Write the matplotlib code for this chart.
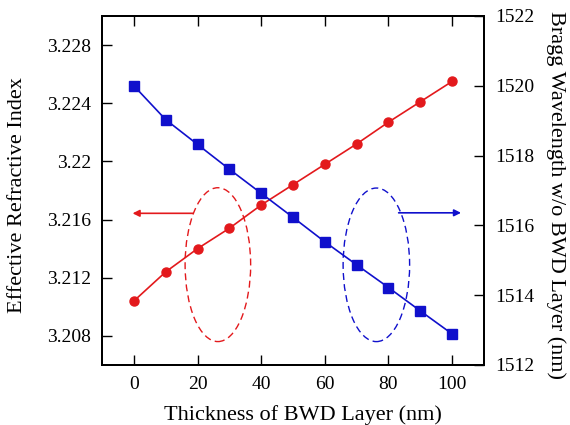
import numpy as np
import matplotlib
matplotlib.use("Agg")
import matplotlib.pyplot as plt
from matplotlib.patches import Ellipse

# data
thickness = [0, 10, 20, 30, 40, 50, 60, 70, 80, 90, 100]
n_eff = [3.2104, 3.2124, 3.2140, 3.2154, 3.2170, 3.2184, 3.2198, 3.2212, 3.2227, 3.2241, 3.2255]
bragg = [1520.00, 1519.03, 1518.32, 1517.61, 1516.92, 1516.23, 1515.53, 1514.87, 1514.22, 1513.55, 1512.89]

x_ticks = [0, 20, 40, 60, 80, 100]
left_ticks = [3.208, 3.212, 3.216, 3.22, 3.224, 3.228]
left_labels = ['3.208', '3.212', '3.216', '3.22', '3.224', '3.228']
right_ticks = [1512, 1514, 1516, 1518, 1520, 1522]

red = '#e3191c'
blue = '#1010cc'

plt.rcParams['font.family'] = ['Liberation Serif', 'DejaVu Serif']

fig = plt.figure(figsize=(5.7, 4.25), dpi=100)
ax = fig.add_axes([0.179, 0.1412, 0.670, 0.8212])
ax2 = ax.twinx()

ax.plot(thickness, n_eff, color=red, lw=1.2, marker='o', markersize=6.5, zorder=3)
ax2.plot(thickness, bragg, color=blue, lw=1.2, marker='s', markersize=6.5, zorder=3)

ax.set_xlim(-10, 110)
ax.set_ylim(3.206, 3.230)
ax2.set_ylim(1512, 1522)

ax.set_xticks(x_ticks)
ax.set_yticks(left_ticks)
ax.set_yticklabels(left_labels)
ax2.set_yticks(right_ticks)

ax.tick_params(axis='x', direction='in', length=7, width=1, top=True, labelsize=14, pad=8)
ax.tick_params(axis='y', direction='in', length=7, width=1, labelsize=14, pad=8)
ax2.tick_params(axis='y', direction='in', length=7, width=1, labelsize=14, pad=8)

for a in (ax, ax2):
    for s in a.spines.values():
        s.set_linewidth(1.4)

# axis titles placed where they sit in the reference
fig.text(0.531, 0.011, 'Thickness of BWD Layer (nm)', fontsize=16, ha='center', va='baseline')
fig.text(0.030, 0.54, 'Effective Refractive Index', fontsize=16, rotation=90, ha='center', va='center')
fig.text(0.975, 0.541, 'Bragg Wavelength w/o BWD Layer (nm)', fontsize=16, rotation=270, ha='center', va='center')

# ellipses marking each curve
ax.add_patch(Ellipse((26.4, 3.2129), 20.6, 0.01058, fill=False, ec=red, lw=1.0, ls=(0, (5, 3)), zorder=2))
ax2.add_patch(Ellipse((76.2, 1514.87), 20.9, 4.4, fill=False, ec=blue, lw=1.0, ls=(0, (5, 3)), zorder=2))

ax.annotate('', xy=(-0.4, 3.21643), xytext=(18.5, 3.21643),
            arrowprops=dict(arrowstyle='-|>', color=red, lw=1.2, mutation_scale=10, shrinkA=0, shrinkB=0))
ax2.annotate('', xy=(102.8, 1516.36), xytext=(83.2, 1516.36),
             arrowprops=dict(arrowstyle='-|>', color=blue, lw=1.2, mutation_scale=10, shrinkA=0, shrinkB=0))

fig.savefig('out.png', dpi=100)
